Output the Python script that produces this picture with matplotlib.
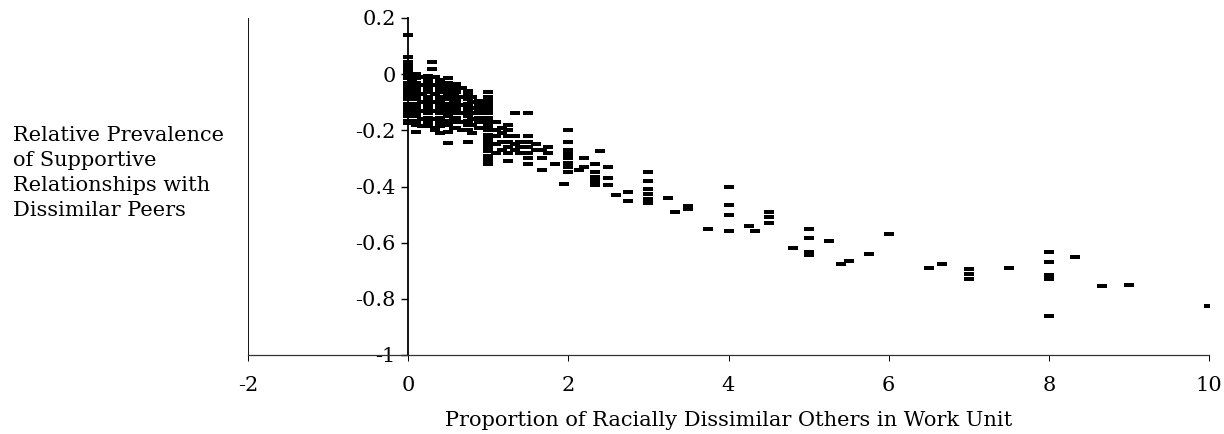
import matplotlib
matplotlib.use("Agg")
import matplotlib.pyplot as plt

plt.rcParams['font.family'] = ['DejaVu Serif']

# dense cluster near zero, column by column
x_cluster = ([0.0] * 18 + [0.05] * 7 + [0.1] * 14 + [0.17] * 7 + [0.25] * 13 + [0.3] * 2
             + [0.33] * 8 + [0.4] * 13 + [0.5] * 14 + [0.57] * 6 + [0.6] * 11 + [0.67] * 6
             + [0.75] * 11 + [0.8] * 7 + [0.88] * 7 + [1.0] * 18)
y_cluster = [
    0.14, 0.06, 0.045, 0.03, 0.015, 0.0, -0.015, -0.03, -0.045, -0.06, -0.075, -0.09,
    -0.105, -0.12, -0.135, -0.15, -0.165, -0.175,
    0.0, -0.02, -0.05, -0.08, -0.11, -0.14, -0.17,
    0.0, -0.015, -0.03, -0.045, -0.06, -0.075, -0.09, -0.105, -0.12, -0.135, -0.15,
    -0.165, -0.18, -0.205,
    -0.01, -0.04, -0.07, -0.1, -0.13, -0.16, -0.185,
    -0.005, -0.02, -0.035, -0.05, -0.065, -0.08, -0.095, -0.11, -0.125, -0.14, -0.155,
    -0.17, -0.185,
    0.045, 0.02,
    -0.01, -0.04, -0.07, -0.1, -0.13, -0.16, -0.19, -0.2,
    -0.02, -0.035, -0.05, -0.065, -0.08, -0.095, -0.11, -0.125, -0.14, -0.155, -0.17,
    -0.185, -0.21,
    -0.015, -0.03, -0.045, -0.06, -0.075, -0.09, -0.105, -0.12, -0.135, -0.15, -0.165,
    -0.18, -0.205, -0.245,
    -0.04, -0.07, -0.1, -0.13, -0.16, -0.19,
    -0.035, -0.05, -0.065, -0.08, -0.095, -0.11, -0.125, -0.14, -0.155, -0.17, -0.19,
    -0.05, -0.08, -0.11, -0.14, -0.17, -0.2,
    -0.06, -0.075, -0.09, -0.105, -0.12, -0.135, -0.15, -0.165, -0.18, -0.2, -0.24,
    -0.08, -0.1, -0.12, -0.14, -0.16, -0.18, -0.21,
    -0.095, -0.11, -0.125, -0.14, -0.155, -0.17, -0.19,
    -0.065, -0.08, -0.095, -0.11, -0.125, -0.14, -0.155, -0.17, -0.185, -0.2, -0.215,
    -0.23, -0.245, -0.26, -0.275, -0.29, -0.305, -0.32,
]

# between 1 and 3
x_mid = ([1.1] * 5 + [1.17] * 4 + [1.25] * 7 + [1.33] * 4 + [1.4] * 3 + [1.5] * 7
         + [1.6] * 2 + [1.67] * 3 + [1.75] * 2 + [1.83] + [1.94] + [2.0] * 8 + [2.13]
         + [2.2] * 2 + [2.33] * 5 + [2.4] + [2.5] * 3 + [2.6] + [2.75] * 2)
y_mid = [
    -0.17, -0.2, -0.22, -0.25, -0.28,
    -0.19, -0.21, -0.24, -0.27,
    -0.18, -0.2, -0.22, -0.24, -0.26, -0.28, -0.31,
    -0.14, -0.22, -0.25, -0.27,
    -0.24, -0.26, -0.28,
    -0.14, -0.22, -0.24, -0.26, -0.28, -0.3, -0.32,
    -0.25, -0.27,
    -0.27, -0.3, -0.34,
    -0.26, -0.28,
    -0.32,
    -0.39,
    -0.2, -0.24, -0.27, -0.285, -0.3, -0.315, -0.33, -0.35,
    -0.34,
    -0.3, -0.33,
    -0.32, -0.35, -0.365, -0.38, -0.395,
    -0.275,
    -0.33, -0.37, -0.395,
    -0.43,
    -0.42, -0.45,
]

# sparse tail
x_tail = ([3.0] * 6 + [3.25, 3.33] + [3.5] * 2 + [3.75] + [4.0] * 4 + [4.25, 4.33]
          + [4.5] * 3 + [4.8] + [5.0] * 4 + [5.25, 5.4, 5.5, 5.75, 6.0, 6.5, 6.67]
          + [7.0] * 3 + [7.5] + [8.0] * 5 + [8.33, 8.67, 9.0, 10.0])
y_tail = [
    -0.35, -0.38, -0.41, -0.425, -0.445, -0.46,
    -0.44, -0.49,
    -0.47, -0.48,
    -0.55,
    -0.40, -0.465, -0.50, -0.557,
    -0.54, -0.56,
    -0.49, -0.51, -0.53,
    -0.62,
    -0.55, -0.585, -0.635, -0.645,
    -0.595, -0.675, -0.665, -0.64, -0.57, -0.69, -0.675,
    -0.695, -0.71, -0.73,
    -0.69,
    -0.635, -0.67, -0.715, -0.73, -0.86,
    -0.65, -0.755, -0.75, -0.825,
]

x_ticks = [-2, 0, 2, 4, 6, 8, 10]
y_ticks = [-1, -0.8, -0.6, -0.4, -0.2, 0, 0.2]
y_tick_labels = ['-1', '-0.8', '-0.6', '-0.4', '-0.2', '0', '0.2']

fig = plt.figure(figsize=(12.24, 4.34), dpi=100)
ax = fig.add_axes([248 / 1224, 79 / 434, 961 / 1224, 337 / 434])

dash = [(-1, -0.5), (1, -0.5), (1, 0.5), (-1, 0.5)]
for xs, ys in [(x_cluster, y_cluster), (x_mid, y_mid), (x_tail, y_tail)]:
    ax.plot(xs, ys, linestyle='none', marker=dash, markersize=7,
            color='black', markeredgewidth=0)

ax.set_xlim(-2, 10)
ax.set_ylim(-1, 0.2)

# y axis crosses at x = 0, plain frame line at x = -2
ax.spines['left'].set_position(('data', 0))
ax.spines['left'].set_linewidth(1.3)
ax.spines['bottom'].set_linewidth(0.9)
ax.spines['bottom'].set_color('#333333')
ax.spines['top'].set_visible(False)
ax.spines['right'].set_visible(False)
ax.axvline(-2, color='black', linewidth=1.3)

ax.set_xticks(x_ticks)
ax.set_xticklabels(['-2', '0', '2', '4', '6', '8', '10'])
ax.set_yticks(y_ticks)
ax.set_yticklabels(y_tick_labels)
ax.tick_params(axis='x', direction='out', length=4, width=0.7, pad=11, labelsize=15)
ax.tick_params(axis='y', direction='out', length=5, width=1, pad=4, labelsize=15)

ax.set_xlabel('Proportion of Racially Dissimilar Others in Work Unit', fontsize=15,
              va='baseline')
ax.xaxis.set_label_coords(0.5, -0.21)
ax.set_ylabel('Relative Prevalence\nof Supportive\nRelationships with\nDissimilar Peers',
              rotation=0, ha='left', va='center', fontsize=15, linespacing=1.42)
ax.yaxis.set_label_coords(-0.245, 0.54)

fig.savefig('out.png', dpi=100)
